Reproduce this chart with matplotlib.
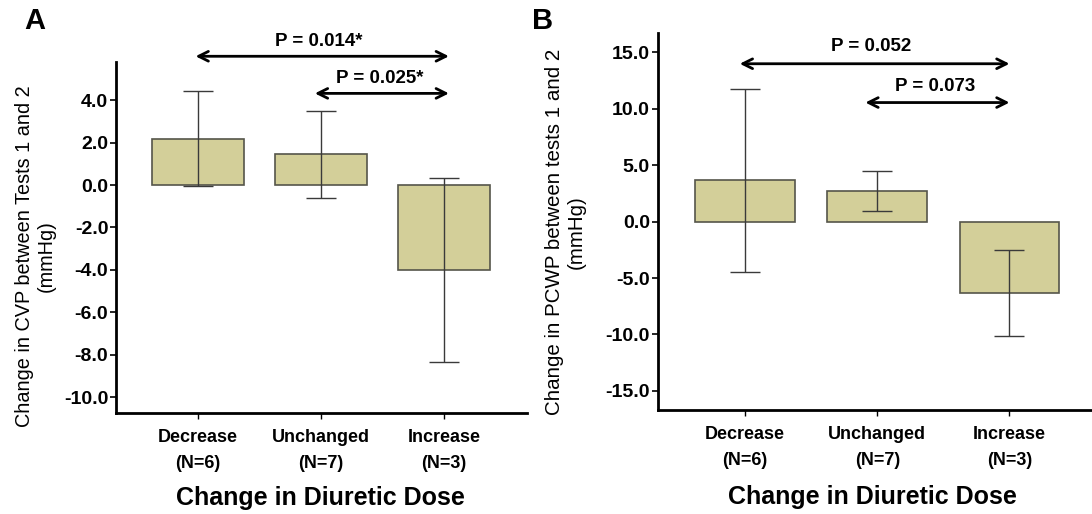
import matplotlib
matplotlib.use("Agg")
import matplotlib.pyplot as plt
import numpy as np

plt.rcParams['font.family'] = ['Liberation Sans', 'DejaVu Sans']
plt.rcParams['axes.unicode_minus'] = False

# ---- data ----
groups = ['Decrease\n(N=6)', 'Unchanged\n(N=7)', 'Increase\n(N=3)']
cvp_mean = [2.18, 1.44, -4.00]
cvp_err = [2.23, 2.07, 4.35]
pcwp_mean = [3.65, 2.71, -6.32]
pcwp_err = [8.12, 1.78, 3.80]
cvp_ticks = [-10, -8, -6, -4, -2, 0, 2, 4]
pcwp_ticks = [-15, -10, -5, 0, 5, 10, 15]
cvp_pvals = ['P = 0.014*', 'P = 0.025*']
pcwp_pvals = ['P = 0.052', 'P = 0.073']

BAR_COLOR = '#d3cf99'
EDGE_COLOR = '#55554a'
ERR_COLOR = '#3a3a3a'

W, H = 1092, 514
fig = plt.figure(figsize=(W / 100, H / 100), dpi=100)


def px_axes(l, t, r, b):
    return fig.add_axes([l / W, 1 - b / H, (r - l) / W, (b - t) / H])


def draw_panel(ax, means, errs, ticks, ylim, xlim, ylabel, ylab_size,
               xlab_pos, ylab_pos):
    x = np.arange(len(groups))
    ax.bar(x, means, width=0.755, color=BAR_COLOR, edgecolor=EDGE_COLOR,
           linewidth=1.2, zorder=2)
    ax.errorbar(x, means, yerr=errs, fmt='none', ecolor=ERR_COLOR,
                elinewidth=1.0, capsize=11, capthick=1.0, zorder=3)
    ax.set_xlim(*xlim)
    ax.set_ylim(*ylim)
    ax.set_yticks(ticks)
    ax.set_yticklabels([f'{t:.1f}' for t in ticks], fontsize=14, fontweight='bold')
    ax.set_xticks(x)
    ax.set_xticklabels(groups, fontsize=13, fontweight='bold', linespacing=1.7)
    for s in ['top', 'right']:
        ax.spines[s].set_visible(False)
    for s in ['left', 'bottom']:
        ax.spines[s].set_linewidth(2.0)
    ax.tick_params(axis='y', length=4, width=1.2, pad=1.5)
    ax.tick_params(axis='x', length=4, width=1.0, pad=7.5)
    ax.set_xlabel('Change in Diuretic Dose', fontsize=18, fontweight='bold')
    ax.xaxis.label.set_va('center')
    ax.xaxis.set_label_coords(*xlab_pos)
    ax.set_ylabel(ylabel, fontsize=ylab_size, linespacing=1.2)
    ax.yaxis.label.set_va('center')
    ax.yaxis.set_label_coords(*ylab_pos)


def bracket(ax, x1, x2, y, text, tx, ty):
    ax.annotate('', xy=(x2, y), xytext=(x1, y),
                arrowprops=dict(arrowstyle='<->, head_length=0.7, head_width=0.35',
                                lw=2.0, color='black', shrinkA=0, shrinkB=0,
                                mutation_scale=10),
                annotation_clip=False)
    ax.text(tx, ty, text, ha='center', va='center', fontsize=13.5,
            fontweight='bold', clip_on=False)


# Panel A
axA = px_axes(116, 62, 527, 413)
draw_panel(axA, cvp_mean, cvp_err, cvp_ticks, (-10.75, 5.8), (-0.667, 2.675),
           'Change in CVP between Tests 1 and 2\n(mmHg)', 14.3,
           (0.498, -0.243), (-0.197, 0.446))
bracket(axA, -0.02, 2.04, 6.07, cvp_pvals[0], 0.98, 6.79)
bracket(axA, 0.95, 2.04, 4.32, cvp_pvals[1], 1.48, 5.02)

# Panel B
axB = px_axes(657.5, 33.3, 1092, 410)
draw_panel(axB, pcwp_mean, pcwp_err, pcwp_ticks, (-16.7, 16.7), (-0.662, 2.624),
           'Change in PCWP between tests 1 and 2\n(mmHg)', 14.8,
           (0.494, -0.230), (-0.212, 0.4725))
bracket(axB, -0.04, 2.0, 14.0, pcwp_pvals[0], 0.95, 15.5)
bracket(axB, 0.91, 2.0, 10.56, pcwp_pvals[1], 1.44, 12.0)

fig.text(34.5 / W, 1 - 20.8 / H, 'A', fontsize=21, fontweight='bold',
         ha='center', va='center')
fig.text(543 / W, 1 - 20.8 / H, 'B', fontsize=21, fontweight='bold',
         ha='center', va='center')

fig.savefig('out.png', dpi=100)
